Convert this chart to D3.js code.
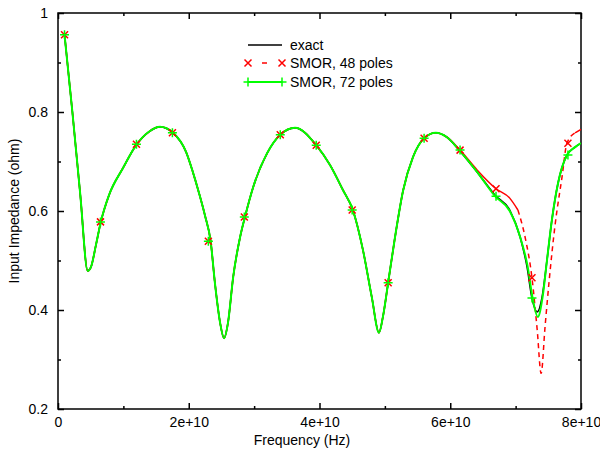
<!DOCTYPE html>
<html>
<head>
<meta charset="utf-8">
<script src="https://cdn.jsdelivr.net/npm/d3@7"></script>
<style>
  body { margin: 0; background: #fff; }
  svg { font-family: "Liberation Sans", Arial, sans-serif; }
  .axis text { font-size: 14px; fill: #000; }
  .axis line { stroke: #000; }
</style>
</head>
<body>
<svg width="600" height="450"></svg>
<script>
// frequencies in GHz, impedance in ohm
const exactF = [1.0, 2.2, 3.4, 4.55, 5.05, 5.8, 6.55, 7.8, 9.95, 11.95, 13.9, 15.6, 17.6, 19.6, 20.6, 21.6, 22.5, 23.35, 24.0, 24.8, 25.4, 26.0, 26.8, 27.85, 28.6, 29.85, 32.0, 34.0, 36.25, 39.5, 41.6, 43.6, 45.1, 46.65, 48.0, 49.1, 49.7, 50.5, 51.55, 52.8, 54.3, 56.0, 57.8, 59.5, 61.5, 64.1, 66.85, 69.1, 70.7, 71.75, 72.5, 73.3, 74.05, 74.8, 75.55, 76.5, 77.85, 79.1, 80.0];
const exactZ = [0.956, 0.80, 0.634, 0.479, 0.487, 0.531, 0.578, 0.632, 0.687, 0.733, 0.760, 0.770, 0.758, 0.719, 0.680, 0.635, 0.590, 0.539, 0.455, 0.374, 0.343, 0.374, 0.467, 0.547, 0.588, 0.648, 0.717, 0.754, 0.768, 0.733, 0.693, 0.642, 0.602, 0.521, 0.426, 0.354, 0.386, 0.455, 0.547, 0.642, 0.709, 0.747, 0.758, 0.749, 0.721, 0.679, 0.632, 0.602, 0.547, 0.487, 0.424, 0.396, 0.426, 0.501, 0.582, 0.657, 0.713, 0.729, 0.737];

const p48F = [1.0, 2.2, 3.4, 4.55, 5.05, 5.8, 6.55, 7.8, 9.95, 11.95, 13.9, 15.6, 17.6, 19.6, 20.6, 21.6, 22.5, 23.35, 24.0, 24.8, 25.4, 26.0, 26.8, 27.85, 28.6, 29.85, 32.0, 34.0, 36.25, 39.5, 41.6, 43.6, 45.1, 46.65, 48.0, 49.1, 49.7, 50.5, 51.55, 52.8, 54.3, 56.0, 57.8, 59.5, 61.5, 64.1, 67.0, 69.1, 70.35, 71.45, 72.5, 73.3, 73.9, 74.5, 75.1, 76.0, 77.1, 77.85, 79.1, 80.0];
const p48Z = [0.956, 0.80, 0.634, 0.479, 0.487, 0.531, 0.578, 0.632, 0.687, 0.733, 0.760, 0.770, 0.758, 0.719, 0.680, 0.635, 0.590, 0.539, 0.455, 0.374, 0.343, 0.374, 0.467, 0.547, 0.588, 0.648, 0.717, 0.754, 0.768, 0.733, 0.693, 0.642, 0.602, 0.521, 0.426, 0.354, 0.386, 0.455, 0.547, 0.642, 0.709, 0.747, 0.758, 0.749, 0.723, 0.683, 0.645, 0.626, 0.602, 0.547, 0.465, 0.360, 0.272, 0.366, 0.455, 0.568, 0.669, 0.737, 0.758, 0.765];

const p72F = [1.0, 2.2, 3.4, 4.55, 5.05, 5.8, 6.55, 7.8, 9.95, 11.95, 13.9, 15.6, 17.6, 19.6, 20.6, 21.6, 22.5, 23.35, 24.0, 24.8, 25.4, 26.0, 26.8, 27.85, 28.6, 29.85, 32.0, 34.0, 36.25, 39.5, 41.6, 43.6, 45.1, 46.65, 48.0, 49.1, 49.7, 50.5, 51.55, 52.8, 54.3, 56.0, 57.8, 59.5, 61.5, 64.1, 66.85, 69.1, 70.7, 71.85, 72.6, 73.4, 74.1, 74.8, 75.55, 76.5, 77.85, 79.1, 80.0];
const p72Z = [0.956, 0.80, 0.634, 0.479, 0.487, 0.531, 0.578, 0.632, 0.687, 0.733, 0.760, 0.770, 0.758, 0.719, 0.680, 0.635, 0.590, 0.539, 0.455, 0.374, 0.343, 0.374, 0.467, 0.547, 0.588, 0.648, 0.717, 0.754, 0.768, 0.733, 0.693, 0.642, 0.602, 0.521, 0.426, 0.354, 0.386, 0.455, 0.547, 0.642, 0.709, 0.747, 0.758, 0.749, 0.721, 0.679, 0.630, 0.600, 0.547, 0.487, 0.424, 0.386, 0.424, 0.501, 0.582, 0.657, 0.713, 0.729, 0.737];

// pole-model sample points
const sampleF = [1, 6.5, 12, 17.5, 23, 28.5, 34, 39.5, 45, 50.5, 56, 61.5, 67, 72.5, 78];
const sample48 = [0.956, 0.578, 0.735, 0.758, 0.539, 0.588, 0.754, 0.733, 0.602, 0.455, 0.747, 0.723, 0.645, 0.465, 0.737];
const sample72 = [0.956, 0.578, 0.735, 0.758, 0.539, 0.588, 0.754, 0.733, 0.602, 0.455, 0.747, 0.723, 0.630, 0.424, 0.713];

const xTicks = [0, 2e10, 4e10, 6e10, 8e10];
const xMinor = [1e10, 3e10, 5e10, 7e10];
const yTicks = [0.2, 0.4, 0.6, 0.8, 1];
const yMinor = [0.3, 0.5, 0.7, 0.9];

const svg = d3.select("svg");
const pL = 58, pR = 581, pT = 13, pB = 409;

const x = d3.scaleLinear().domain([0, 8e10]).range([pL, pR]);
const y = d3.scaleLinear().domain([0.2, 1]).range([pB, pT]);

const toPts = (fs, zs) => fs.map((f, i) => ({f: f * 1e9, z: zs[i]}));
const exact = toPts(exactF, exactZ);
const p48 = toPts(p48F, p48Z);
const p72 = toPts(p72F, p72Z);

const xFmt = d => d === 0 ? "0" : (d / 1e10) + "e+10";

// axes, ticks on all four sides pointing inward
function addAxis(axis, tr) {
  const g = svg.append("g").attr("class", "axis")
    .attr("transform", tr).call(axis);
  g.select(".domain").remove();
  return g;
}
addAxis(d3.axisBottom(x).tickValues(xTicks).tickSize(-6).tickPadding(8).tickFormat(xFmt), `translate(0,${pB})`);
addAxis(d3.axisBottom(x).tickValues(xMinor).tickSize(-3).tickFormat(""), `translate(0,${pB})`);
addAxis(d3.axisTop(x).tickValues(xTicks).tickSize(-6).tickFormat(""), `translate(0,${pT})`);
addAxis(d3.axisTop(x).tickValues(xMinor).tickSize(-3).tickFormat(""), `translate(0,${pT})`);
addAxis(d3.axisLeft(y).tickValues(yTicks).tickSize(-6).tickPadding(10).tickFormat(d3.format("")), `translate(${pL},0)`);
addAxis(d3.axisLeft(y).tickValues(yMinor).tickSize(-3).tickFormat(""), `translate(${pL},0)`);
addAxis(d3.axisRight(y).tickValues(yTicks).tickSize(-6).tickFormat(""), `translate(${pR},0)`);
addAxis(d3.axisRight(y).tickValues(yMinor).tickSize(-3).tickFormat(""), `translate(${pR},0)`);

svg.selectAll(".axis .tick line").attr("stroke-width", 1.5);

svg.append("rect")
  .attr("x", pL).attr("y", pT)
  .attr("width", pR - pL).attr("height", pB - pT)
  .attr("fill", "none").attr("stroke", "#000").attr("stroke-width", 1.5);

svg.append("text")
  .attr("x", 302).attr("y", 445)
  .attr("text-anchor", "middle").attr("font-size", 14)
  .text("Frequency (Hz)");

svg.append("text")
  .attr("transform", `translate(19,${(pT + pB) / 2}) rotate(-90)`)
  .attr("text-anchor", "middle").attr("font-size", 14)
  .text("Input Impedance (ohm)");

svg.append("clipPath").attr("id", "clip")
  .append("rect").attr("x", pL).attr("y", pT)
  .attr("width", pR - pL).attr("height", pB - pT);

const plot = svg.append("g").attr("clip-path", "url(#clip)");

const line = d3.line().x(d => x(d.f)).y(d => y(d.z)).curve(d3.curveMonotoneX);

// exact
plot.append("path").datum(exact)
  .attr("d", line).attr("fill", "none")
  .attr("stroke", "#000").attr("stroke-width", 1.6);

// 48 poles: dense parts look solid, steep parts dashed
const solid48 = d3.line().x(d => x(d.f)).y(d => y(d.z))
  .defined(d => d.f <= 70.4e9 || d.f >= 79e9).curve(d3.curveMonotoneX);
plot.append("path").datum(p48)
  .attr("d", solid48).attr("fill", "none")
  .attr("stroke", "#ff0000").attr("stroke-width", 1.5);
plot.append("path").datum(p48.filter(d => d.f >= 70.3e9 && d.f <= 79.2e9))
  .attr("d", line).attr("fill", "none")
  .attr("stroke", "#ff0000").attr("stroke-width", 1.5)
  .attr("stroke-dasharray", "5,4");

// 72 poles
plot.append("path").datum(p72)
  .attr("d", line).attr("fill", "none")
  .attr("stroke", "#00ff00").attr("stroke-width", 2);

const cross = (g, cx, cy, s) => {
  g.append("path")
    .attr("d", `M${cx - s},${cy - s}L${cx + s},${cy + s}M${cx - s},${cy + s}L${cx + s},${cy - s}`)
    .attr("stroke", "#ff0000").attr("stroke-width", 1.5).attr("fill", "none");
};
const plus = (g, cx, cy, s) => {
  g.append("path")
    .attr("d", `M${cx - s},${cy}L${cx + s},${cy}M${cx},${cy - s}L${cx},${cy + s}`)
    .attr("stroke", "#00ff00").attr("stroke-width", 1.5).attr("fill", "none");
};

const marks = svg.append("g");
sampleF.forEach((f, i) => cross(marks, x(f * 1e9), y(sample48[i]), 3.5));
sampleF.forEach((f, i) => plus(marks, x(f * 1e9), y(sample72[i]), 4.5));

// legend
const lg = svg.append("g");
const lx0 = 248, lx1 = 282, tx = 290;
const rows = [45, 63, 82];
lg.append("line").attr("x1", lx0).attr("x2", lx1).attr("y1", rows[0]).attr("y2", rows[0])
  .attr("stroke", "#000").attr("stroke-width", 1.6);
lg.append("line").attr("x1", 262).attr("x2", 267).attr("y1", rows[1]).attr("y2", rows[1])
  .attr("stroke", "#ff0000").attr("stroke-width", 1.5);
cross(lg, lx0, rows[1], 3.5);
cross(lg, lx1, rows[1], 3.5);
lg.append("line").attr("x1", lx0).attr("x2", lx1).attr("y1", rows[2]).attr("y2", rows[2])
  .attr("stroke", "#00ff00").attr("stroke-width", 2);
plus(lg, lx0, rows[2], 4.5);
plus(lg, lx1, rows[2], 4.5);
["exact", "SMOR, 48 poles", "SMOR, 72 poles"].forEach((t, i) => {
  lg.append("text").attr("x", tx).attr("y", rows[i]).attr("dy", "0.35em")
    .attr("font-size", 14).text(t);
});
</script>
</body>
</html>
